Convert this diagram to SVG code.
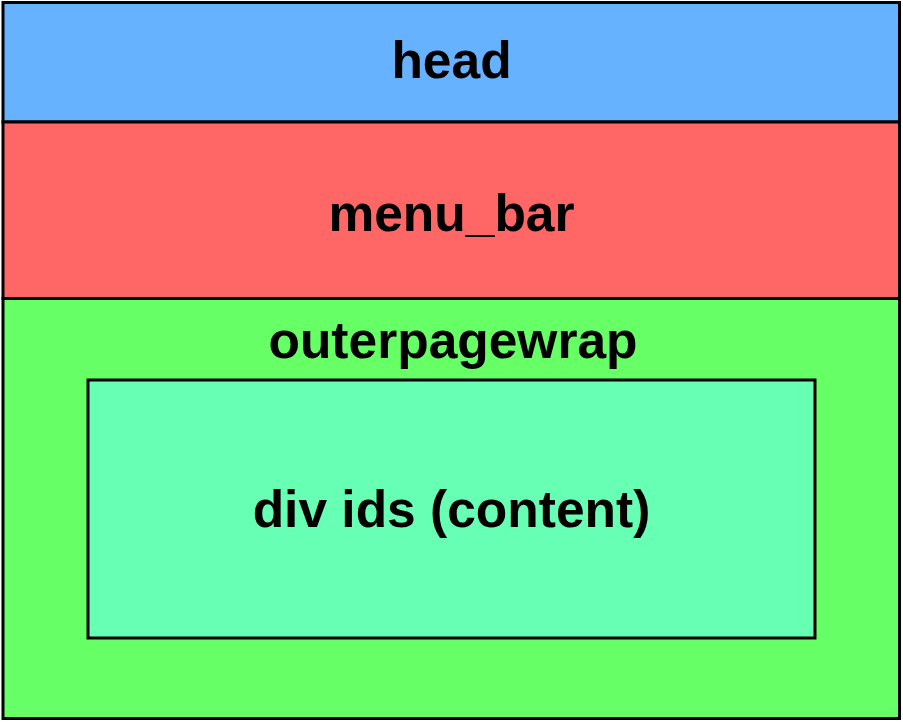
<svg xmlns="http://www.w3.org/2000/svg" width="903" height="722" viewBox="0 0 903 722">
<style>
.box{stroke:#000;stroke-width:3}
.lbl{font-family:"Liberation Sans",Arial,sans-serif;font-weight:bold;font-size:51.5px;text-anchor:middle;fill:#000}
</style>
<rect width="903" height="722" fill="#fff"/>
<g id="head">
<rect class="box" x="3" y="2.5" width="896.5" height="119.5" fill="#66B2FF"/>
<text class="lbl" x="451.5" y="78">head</text>
</g>
<g id="menu_bar">
<rect class="box" x="3" y="122" width="896.5" height="176.5" fill="#FF6666"/>
<text class="lbl" x="451.5" y="231">menu_bar</text>
</g>
<g id="outerpagewrap">
<rect class="box" x="3" y="298.5" width="896.5" height="420" fill="#66FF66"/>
<text class="lbl" x="453" y="358">outerpagewrap</text>
</g>
<g id="content">
<rect class="box" x="88" y="380" width="727" height="258" fill="#66FFB3"/>
<text class="lbl" x="451.5" y="527">div ids (content)</text>
</g>
<g id="connectors"/>
</svg>
